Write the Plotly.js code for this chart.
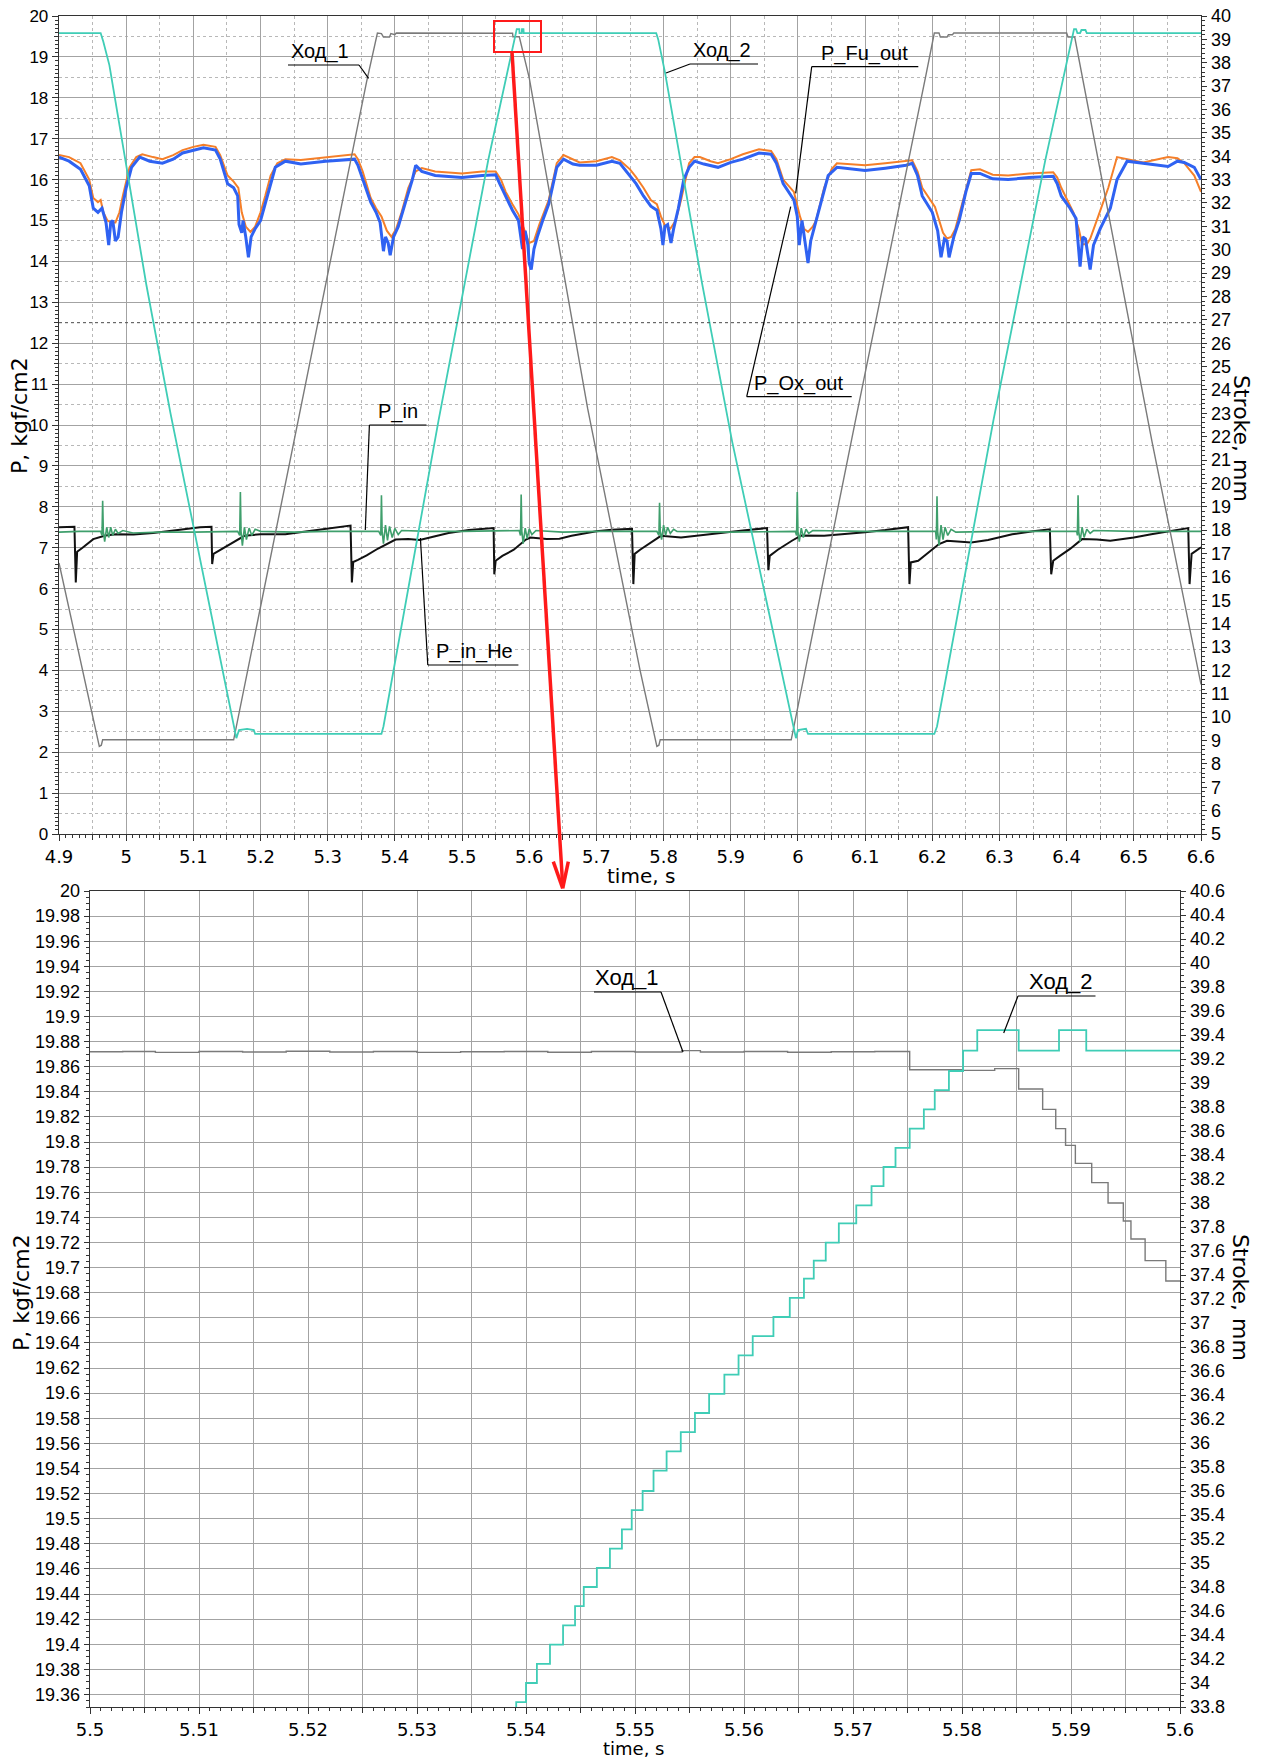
<!DOCTYPE html>
<html>
<head>
<meta charset="utf-8">
<script src="https://cdn.plot.ly/plotly-3.0.1.min.js"></script>
<style>html,body{margin:0;padding:0;background:#fff;}#chart{width:1262px;height:1758px;}</style>
</head>
<body>
<div id="chart"></div>
<script>
// ===== DATA =====
// --- Upper chart: time, s ---
const hod1_t = [4.900,4.958,4.960,4.963,4.965,5.160,5.255,5.358,5.374,5.380,5.383,5.392,5.394,5.400,5.402,5.5752,5.5757,5.5852,5.600,5.687,5.765,5.788,5.790,5.793,5.795,5.990,6.085,6.190,6.203,6.210,6.212,6.222,6.224,6.230,6.232,6.400,6.402,6.412,6.527,6.600];
const hod1_s = [16.6,8.9,8.75,8.8,9.03,9.03,22.6,37.2,39.27,39.25,39.1,39.1,39.25,39.2,39.27,39.26,39.11,39.11,37.35,23.2,12.0,8.9,8.75,8.8,9.03,9.03,22.6,37.4,39.27,39.27,39.1,39.1,39.2,39.2,39.27,39.27,39.1,39.1,21.8,11.4];

const hod2_t = [4.900,4.962,4.966,4.975,5.030,5.066,5.164,5.168,5.180,5.190,5.192,5.380,5.383,5.465,5.539,5.5814,5.5852,5.5855,5.5889,5.5892,5.5914,5.5918,5.789,5.792,5.802,5.857,5.902,5.997,6.000,6.012,6.015,6.203,6.207,6.291,6.368,6.411,6.414,6.416,6.420,6.422,6.428,6.430,6.600];
const hod2_s = [39.27,39.27,38.9,37.9,28.5,23.0,9.1,9.45,9.5,9.45,9.28,9.28,9.6,22.7,33.84,39.44,39.44,39.27,39.27,39.44,39.44,39.27,39.27,39.0,37.6,28.6,21.8,9.1,9.45,9.5,9.28,9.28,9.6,22.7,33.8,39.44,39.44,39.27,39.27,39.4,39.4,39.27,39.27];

const pfu_t = [4.900,4.915,4.932,4.945,4.951,4.958,4.962,4.966,4.972,4.978,4.984,4.990,4.995,5.005,5.015,5.024,5.040,5.054,5.070,5.084,5.100,5.115,5.133,5.140,5.151,5.160,5.167,5.172,5.178,5.185,5.192,5.200,5.207,5.215,5.225,5.237,5.260,5.297,5.320,5.340,5.345,5.352,5.364,5.372,5.380,5.388,5.395,5.402,5.410,5.420,5.431,5.440,5.460,5.500,5.530,5.550,5.558,5.565,5.575,5.584,5.592,5.600,5.607,5.615,5.629,5.641,5.651,5.665,5.675,5.700,5.723,5.735,5.750,5.759,5.770,5.781,5.790,5.796,5.802,5.810,5.818,5.826,5.838,5.846,5.854,5.870,5.881,5.900,5.918,5.942,5.960,5.968,5.978,5.994,6.003,6.009,6.015,6.022,6.027,6.039,6.050,6.058,6.080,6.100,6.130,6.161,6.170,6.178,6.185,6.204,6.210,6.216,6.222,6.228,6.234,6.246,6.258,6.271,6.290,6.313,6.344,6.380,6.386,6.392,6.410,6.418,6.423,6.430,6.435,6.447,6.462,6.475,6.490,6.514,6.551,6.565,6.575,6.590,6.600];
const pfu_p = [16.60,16.55,16.40,16.00,15.55,15.45,15.50,15.20,15.00,14.95,14.95,15.20,15.60,16.30,16.55,16.62,16.55,16.50,16.60,16.72,16.80,16.85,16.80,16.60,16.10,15.95,15.80,15.20,14.85,14.72,14.85,15.20,15.60,16.10,16.40,16.50,16.48,16.55,16.58,16.62,16.50,16.20,15.55,15.30,15.10,14.75,14.60,14.80,15.20,15.80,16.20,16.28,16.20,16.15,16.20,16.20,16.00,15.70,15.40,15.15,14.80,14.45,14.50,14.90,15.50,16.40,16.60,16.50,16.42,16.45,16.55,16.47,16.25,16.06,15.80,15.50,15.40,15.10,14.88,14.80,15.00,15.50,16.40,16.55,16.55,16.45,16.40,16.50,16.62,16.74,16.70,16.50,16.00,15.70,15.10,14.80,14.72,14.85,15.00,15.80,16.25,16.40,16.38,16.35,16.40,16.45,16.47,16.20,15.80,15.33,15.00,14.70,14.56,14.60,14.78,15.50,16.23,16.25,16.12,16.10,16.15,16.18,16.05,15.80,15.20,14.80,14.42,14.42,14.55,15.10,15.80,16.55,16.50,16.42,16.55,16.52,16.40,16.10,15.70];

const pox_t = [4.900,4.915,4.932,4.945,4.951,4.958,4.964,4.970,4.974,4.977,4.980,4.984,4.988,4.993,5.000,5.008,5.020,5.035,5.054,5.070,5.084,5.100,5.115,5.133,5.140,5.151,5.160,5.166,5.168,5.172,5.174,5.178,5.182,5.186,5.192,5.200,5.210,5.222,5.237,5.260,5.297,5.320,5.340,5.345,5.352,5.364,5.372,5.378,5.383,5.386,5.390,5.393,5.398,5.405,5.415,5.426,5.431,5.440,5.460,5.500,5.530,5.550,5.556,5.565,5.575,5.584,5.590,5.594,5.598,5.600,5.603,5.607,5.612,5.620,5.629,5.641,5.651,5.665,5.675,5.700,5.723,5.735,5.750,5.759,5.770,5.781,5.790,5.796,5.799,5.802,5.806,5.811,5.815,5.822,5.830,5.838,5.846,5.860,5.881,5.900,5.918,5.942,5.960,5.968,5.978,5.994,5.999,6.002,6.006,6.010,6.015,6.019,6.024,6.032,6.045,6.058,6.080,6.100,6.130,6.161,6.170,6.178,6.185,6.200,6.208,6.213,6.218,6.222,6.225,6.232,6.240,6.250,6.258,6.271,6.290,6.313,6.344,6.380,6.386,6.392,6.405,6.414,6.420,6.424,6.428,6.435,6.440,6.450,6.465,6.475,6.490,6.514,6.551,6.565,6.575,6.590,6.600];
const pox_p = [16.55,16.45,16.25,15.85,15.30,15.20,15.30,14.95,14.40,14.95,15.00,14.50,14.60,15.20,15.80,16.30,16.55,16.45,16.40,16.50,16.65,16.72,16.78,16.72,16.50,15.90,15.80,15.60,14.90,14.70,15.00,14.60,14.10,14.60,14.80,15.00,15.60,16.30,16.45,16.38,16.45,16.48,16.50,16.35,16.00,15.45,15.20,14.95,14.25,14.60,14.45,14.15,14.60,14.85,15.40,16.00,16.35,16.20,16.10,16.05,16.10,16.12,15.90,15.60,15.25,15.00,14.30,14.75,14.40,13.95,13.80,14.30,14.60,15.00,15.40,16.30,16.50,16.38,16.35,16.35,16.45,16.40,16.10,15.90,15.60,15.35,15.25,14.80,14.40,14.85,14.90,14.45,14.80,15.30,16.00,16.30,16.45,16.38,16.30,16.42,16.50,16.65,16.62,16.40,15.90,15.50,15.10,14.40,15.00,14.50,13.96,14.50,14.80,15.30,16.10,16.30,16.25,16.22,16.28,16.35,16.40,16.10,15.60,15.20,14.75,14.10,14.55,14.50,14.10,14.60,15.00,15.70,16.15,16.15,16.02,16.00,16.05,16.08,15.90,15.60,15.30,15.05,13.87,14.60,14.55,13.80,14.40,14.80,15.30,16.00,16.45,16.40,16.32,16.45,16.42,16.30,16.00,15.60];

const pin_t = [4.900,4.923,4.925,4.927,4.935,4.951,4.969,4.985,5.011,5.040,5.080,5.110,5.127,5.128,5.130,5.140,5.160,5.176,5.200,5.237,5.270,5.300,5.334,5.336,5.338,5.345,5.358,5.375,5.389,5.401,5.420,5.437,5.460,5.480,5.510,5.541,5.547,5.548,5.550,5.560,5.577,5.595,5.602,5.626,5.645,5.663,5.700,5.723,5.753,5.755,5.757,5.765,5.778,5.796,5.826,5.857,5.890,5.918,5.954,5.956,5.958,5.970,5.991,6.005,6.039,6.070,6.100,6.130,6.164,6.166,6.168,6.179,6.195,6.210,6.222,6.240,6.258,6.283,6.319,6.350,6.375,6.377,6.380,6.390,6.405,6.423,6.445,6.465,6.500,6.526,6.560,6.581,6.583,6.586,6.600];
const pin_p = [7.50,7.51,6.15,6.90,7.00,7.21,7.30,7.33,7.32,7.36,7.44,7.50,7.51,6.60,6.85,6.95,7.15,7.29,7.33,7.33,7.40,7.47,7.54,6.15,6.65,6.70,6.81,6.98,7.09,7.20,7.21,7.19,7.28,7.36,7.43,7.48,7.48,6.35,6.68,6.80,6.95,7.20,7.25,7.21,7.22,7.29,7.40,7.44,7.46,6.11,6.85,6.95,7.09,7.29,7.25,7.31,7.38,7.42,7.48,6.45,6.80,6.95,7.17,7.30,7.29,7.33,7.38,7.43,7.50,6.11,6.64,6.68,6.90,7.09,7.17,7.15,7.13,7.19,7.33,7.40,7.45,6.35,6.68,6.80,6.97,7.21,7.20,7.17,7.25,7.33,7.42,7.48,6.11,6.85,7.01];

const pinhe_t = [4.900,4.930,4.962,4.964,4.965,4.966,4.968,4.971,4.974,4.977,4.980,4.984,4.988,4.995,5.010,5.050,5.100,5.166,5.169,5.170,5.171,5.173,5.176,5.179,5.183,5.187,5.192,5.200,5.250,5.300,5.376,5.379,5.380,5.381,5.383,5.386,5.389,5.392,5.396,5.400,5.405,5.410,5.450,5.500,5.585,5.587,5.588,5.589,5.591,5.594,5.597,5.600,5.604,5.610,5.650,5.700,5.790,5.793,5.794,5.795,5.797,5.800,5.803,5.806,5.810,5.815,5.820,5.900,5.996,5.998,5.999,6.000,6.002,6.005,6.008,6.012,6.016,6.022,6.100,6.205,6.206,6.207,6.208,6.210,6.213,6.216,6.219,6.223,6.228,6.235,6.300,6.415,6.416,6.417,6.418,6.420,6.423,6.426,6.430,6.435,6.440,6.500,6.600];
const pinhe_p = [7.38,7.40,7.40,7.30,8.15,7.40,7.15,7.50,7.25,7.50,7.30,7.45,7.35,7.42,7.36,7.38,7.38,7.40,7.30,8.36,7.40,7.05,7.50,7.20,7.48,7.30,7.45,7.40,7.38,7.40,7.40,7.30,8.28,7.40,7.10,7.55,7.18,7.52,7.25,7.47,7.32,7.42,7.40,7.40,7.42,7.30,8.30,7.40,7.10,7.48,7.22,7.46,7.32,7.42,7.38,7.40,7.40,7.30,8.10,7.40,7.20,7.55,7.30,7.50,7.35,7.45,7.40,7.38,7.40,7.30,8.36,7.40,7.15,7.48,7.25,7.45,7.35,7.42,7.40,7.40,7.20,8.26,7.40,7.05,7.55,7.20,7.50,7.30,7.45,7.38,7.40,7.40,7.30,8.28,7.40,7.15,7.50,7.25,7.45,7.35,7.42,7.40,7.40];

// --- Lower chart (zoom 5.5 - 5.6 s), stroke in mm ---
const hod1z_t = [5.5000,5.5030,5.5060,5.5100,5.5140,5.5180,5.5220,5.5260,5.5300,5.5340,5.5380,5.5420,5.5460,5.5500,5.5543,5.5560,5.5600,5.5640,5.5680,5.5720,5.5752,5.5800,5.5830,5.5852,5.5874,5.5886,5.5895,5.5904,5.5919,5.5934,5.5948,5.5955,5.5968,5.5987,5.6000];
const hod1z_s = [39.260,39.262,39.255,39.262,39.258,39.265,39.258,39.262,39.255,39.260,39.262,39.256,39.263,39.258,39.270,39.258,39.262,39.256,39.260,39.262,39.110,39.105,39.120,38.950,38.780,38.620,38.480,38.330,38.170,38.000,37.850,37.700,37.520,37.350,37.350];
const hod2z_t = [5.5380,5.5391,5.5400,5.5410,5.5422,5.5434,5.5445,5.5453,5.5465,5.5477,5.5488,5.5497,5.5507,5.5517,5.5529,5.5542,5.5555,5.5568,5.5582,5.5595,5.5608,5.5627,5.5642,5.5655,5.5664,5.5675,5.5687,5.5703,5.5717,5.5728,5.5739,5.5752,5.5765,5.5775,5.5788,5.5801,5.5814,5.5852,5.5889,5.5914,5.6000];
const hod2z_s = [33.68,33.84,34.00,34.16,34.32,34.48,34.64,34.80,34.96,35.12,35.28,35.44,35.60,35.77,35.93,36.09,36.25,36.41,36.57,36.73,36.89,37.05,37.21,37.37,37.52,37.67,37.83,37.98,38.14,38.30,38.46,38.62,38.78,38.94,39.10,39.27,39.44,39.27,39.44,39.27,39.27];

// ===== STYLE =====
const W = 1262, H = 1758;
const px = x => x / W, py = y => 1 - y / H;
const FT = 'Liberation Sans, Arial, Helvetica, sans-serif';
const FT2 = 'DejaVu Sans, Verdana, sans-serif';
const C = {hod1:'#7a7a7a', hod2:'#3fcdb6', fu:'#f57f29', ox:'#2f62f2', pin:'#111111', pinhe:'#3f9f6c', grid:'#a3a3a3', minor:'#b8b8b8', axis:'#333333'};

const traces = [
  {x:pfu_t, y:pfu_p, xaxis:'x', yaxis:'y', mode:'lines', line:{color:C.fu, width:2}, name:'P_Fu_out'},
  {x:pox_t, y:pox_p, xaxis:'x', yaxis:'y', mode:'lines', line:{color:C.ox, width:3}, name:'P_Ox_out'},
  {x:pin_t, y:pin_p, xaxis:'x', yaxis:'y', mode:'lines', line:{color:C.pin, width:2}, name:'P_in'},
  {x:pinhe_t, y:pinhe_p, xaxis:'x', yaxis:'y', mode:'lines', line:{color:C.pinhe, width:1.6}, name:'P_in_He'},
  {x:hod1_t, y:hod1_s, xaxis:'x', yaxis:'y2', mode:'lines', line:{color:C.hod1, width:1.4}, name:'Ход_1'},
  {x:hod2_t, y:hod2_s, xaxis:'x', yaxis:'y2', mode:'lines', line:{color:C.hod2, width:1.8}, name:'Ход_2'},
  {x:[], y:[], xaxis:'x3', yaxis:'y', mode:'lines', hoverinfo:'skip'},
  {x:[], y:[], xaxis:'x', yaxis:'y5', mode:'lines', hoverinfo:'skip'},
  {x:[], y:[], xaxis:'x2', yaxis:'y3', mode:'lines', hoverinfo:'skip'},
  {x:hod1z_t, y:hod1z_s, xaxis:'x2', yaxis:'y4', mode:'lines', line:{color:C.hod1, width:1.4, shape:'hv'}, name:'Ход_1'},
  {x:hod2z_t, y:hod2z_s, xaxis:'x2', yaxis:'y4', mode:'lines', line:{color:C.hod2, width:1.8, shape:'hv'}, name:'Ход_2'},
  {x:[], y:[], xaxis:'x4', yaxis:'y3', mode:'lines', hoverinfo:'skip'}
];

const ax = {ticks:'outside', tickcolor:C.axis, tickwidth:1, showline:true, linecolor:C.axis, linewidth:1.3,
            gridcolor:C.grid, gridwidth:1, zeroline:false, fixedrange:true};
const tickOnly = {ticks:'outside', tickcolor:C.axis, ticklen:3, showgrid:false, showticklabels:false, showline:false, zeroline:false};

const layout = {
  width: W, height: H, margin:{l:0,r:0,t:0,b:0}, showlegend:false,
  paper_bgcolor:'#ffffff', plot_bgcolor:'#ffffff',
  font:{family:FT, size:16, color:'#000'},
  xaxis: Object.assign({}, ax, {domain:[px(59), px(1201)], anchor:'y', range:[4.9,6.6], dtick:0.1, tick0:4.9, ticklen:6, mirror:true,
          tickfont:{family:FT2, size:18},
          minor:{dtick:0.05, showgrid:true, gridcolor:C.minor, griddash:'dot', ticks:'outside', ticklen:5}}),
  xaxis3: Object.assign({}, tickOnly, {overlaying:'x', anchor:'y', range:[4.9,6.6], dtick:0.01, tick0:4.9, side:'bottom'}),
  yaxis: Object.assign({}, ax, {domain:[py(834), py(16)], anchor:'x', range:[0,20], dtick:1, ticklen:6, mirror:true,
          tickfont:{size:17},
          minor:{dtick:0.5, showgrid:true, gridcolor:C.minor, griddash:'dot', ticks:'outside', ticklen:4}}),
  yaxis5: Object.assign({}, tickOnly, {overlaying:'y', anchor:'x', range:[0,20], dtick:0.1, side:'left'}),
  yaxis2: Object.assign({}, ax, {overlaying:'y', side:'right', anchor:'x', range:[5,40], dtick:1, ticklen:5, showgrid:false,
          tickfont:{size:18},
          minor:{dtick:0.2, ticks:'outside', ticklen:3, showgrid:false}}),
  xaxis2: Object.assign({}, ax, {domain:[px(90), px(1180)], anchor:'y3', range:[5.5,5.6], dtick:0.01, tick0:5.5, ticklen:6, mirror:true,
          tickfont:{family:FT2, size:18},
          minor:{dtick:0.005, showgrid:true, gridcolor:C.grid, ticks:'outside', ticklen:5}}),
  xaxis4: Object.assign({}, tickOnly, {overlaying:'x2', anchor:'y3', range:[5.5,5.6], dtick:0.001, tick0:5.5, side:'bottom'}),
  yaxis3: Object.assign({}, ax, {domain:[py(1707), py(891)], anchor:'x2', range:[19.35,20], dtick:0.02, tick0:19.36, ticklen:5, mirror:true,
          tickfont:{size:18},
          minor:{dtick:0.005, ticks:'outside', ticklen:3, showgrid:false}}),
  yaxis4: Object.assign({}, ax, {overlaying:'y3', side:'right', anchor:'x2', range:[33.8,40.6], dtick:0.2, tick0:33.8, ticklen:5, showgrid:false,
          tickfont:{size:18},
          minor:{dtick:0.05, ticks:'outside', ticklen:3, showgrid:false}}),
  shapes: [],
  annotations: []
};

// helper decorations in page pixels
function seg(x0,y0,x1,y1,color,width,dash){
  return {type:'line', xref:'paper', yref:'paper', x0:px(x0), y0:py(y0), x1:px(x1), y1:py(y1),
          line:{color:color, width:width, dash:dash||'solid'}, layer:'above'};
}
function lbl(text,x,y,size){
  return {text:text, xref:'paper', yref:'paper', x:px(x), y:py(y), xanchor:'left', yanchor:'bottom',
          showarrow:false, borderpad:0, font:{family:FT, size:size, color:'#000'}};
}
function title(text,x,y,angle,size){
  return {text:text, xref:'paper', yref:'paper', x:px(x), y:py(y), xanchor:'center', yanchor:'middle',
          showarrow:false, borderpad:0, textangle:angle, font:{family:FT2, size:size, color:'#000'}};
}

// darker reference line in the upper chart
layout.shapes.push(seg(59,322.7,1201,322.7,'#555',1,'dot'));

// callout labels, upper chart
const L = '#000';
layout.shapes.push(seg(288,65,359,65,L,1.2), seg(359,65,368.6,78.3,L,1.2));            // Ход_1
layout.shapes.push(seg(690,64,758,64,L,1.2), seg(690,64,666,73,L,1.2));                // Ход_2
layout.shapes.push(seg(811.7,66.7,918.3,66.7,L,1.2), seg(811.7,66.7,795.7,193.3,L,1.2)); // P_Fu_out
layout.shapes.push(seg(746.7,396.7,851.7,396.7,L,1.2), seg(746.7,396.7,790.7,206.7,L,1.2)); // P_Ox_out
layout.shapes.push(seg(369.4,425,426.5,425,L,1.2), seg(369.4,425,365.3,530,L,1.2));    // P_in
layout.shapes.push(seg(427.8,665,518.4,665,L,1.2), seg(427.8,665,420.4,538,L,1.2));    // P_in_He
layout.annotations.push(lbl('Ход_1',290,64,20), lbl('Ход_2',692,63,20), lbl('P_Fu_out',820,65.7,20),
                        lbl('P_Ox_out',753,395.7,20), lbl('P_in',377,424,20), lbl('P_in_He',435,664,20));
// callout labels, lower chart
layout.shapes.push(seg(594,992,661,992,L,1.2), seg(661,992,683,1052,L,1.2));
layout.shapes.push(seg(1018,996,1095.5,996,L,1.2), seg(1018,996,1003.7,1033,L,1.2));
layout.annotations.push(lbl('Ход_1',594,991,22), lbl('Ход_2',1028,995,22));

// red zoom box + arrow
layout.shapes.push({type:'rect', xref:'paper', yref:'paper', x0:px(494), x1:px(541), y0:py(52), y1:py(21),
                    line:{color:'#ff1a1a', width:2}, layer:'above'});
layout.shapes.push(seg(512,52,562.7,886,'#ff1a1a',3.5));
layout.shapes.push(seg(553.3,861.7,562.7,888.3,'#ff1a1a',3.5), seg(568.3,861.7,562.7,888.3,'#ff1a1a',3.5));

// axis titles
layout.annotations.push(title('P, kgf/cm2',19,416,-90,22), title('Stroke, mm',1241,438,90,22),
                        title('time, s',641,876,0,20),
                        title('P, kgf/cm2',21,1293,-90,22), title('Stroke, mm',1241,1297,90,22),
                        title('time, s',634,1748,0,18));

Plotly.newPlot('chart', traces, layout, {staticPlot:true, displayModeBar:false});
</script>
</body>
</html>
